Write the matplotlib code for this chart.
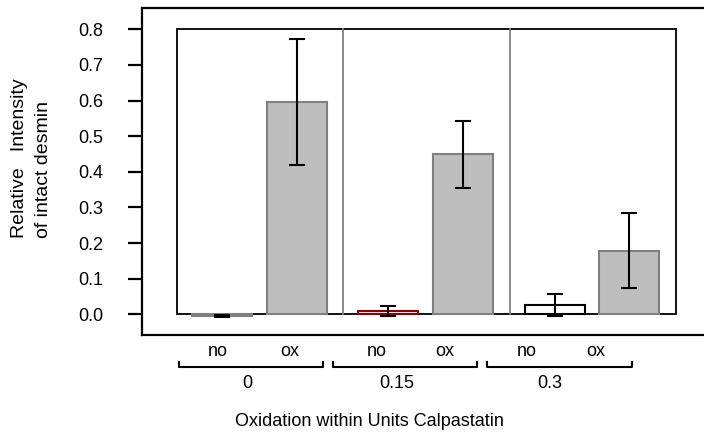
import matplotlib
matplotlib.use("Agg")
import matplotlib.pyplot as plt
from matplotlib.patches import Rectangle

plt.rcParams['font.family'] = ['Liberation Sans', 'DejaVu Sans']

# ---- data ----
groups = ["0", "0.15", "0.3"]
conditions = ["no", "ox"]
means = [[-0.005, 0.596], [0.008, 0.449], [0.027, 0.178]]
errors = [[0.002, 0.178], [0.014, 0.095], [0.031, 0.105]]
yticks = [0.0, 0.1, 0.2, 0.3, 0.4, 0.5, 0.6, 0.7, 0.8]
ylabel_lines = ["Relative   Intensity", "of intact desmin"]
xtitle = "Oxidation within Units Calpastatin"

# ---- styles ----
face = [["#bebebe", "#bebebe"], ["white", "#bebebe"], ["white", "#bebebe"]]
edge = [["#808080", "#808080"], ["#8b0000", "#808080"], ["black", "#808080"]]
FS = 13
FSY = 14

W, H = 704, 433
fig = plt.figure(figsize=(W / 100, H / 100), dpi=100)

def fx(px):
    return px / W

def fy(py):
    return 1 - py / H

# axes frame in pixels
left, right, top, bottom = 142, 712, 8, 334.5
ax = fig.add_axes([fx(left), fy(bottom), fx(right) - fx(left), fy(top) - fy(bottom)])
x0_px, x3_px = 177, 676
ppu = (x3_px - x0_px) / 3
y0_px, y8_px = 314.3, 29.3
ppy = (y0_px - y8_px) / 0.8
ax.set_xlim((left - x0_px) / ppu, (right - x0_px) / ppu)
ax.set_ylim((y0_px - bottom) / ppy, (y0_px - top) / ppy)

for s in ax.spines.values():
    s.set_linewidth(1.6)
ax.set_xticks([])
ax.set_yticks(yticks)
ax.set_yticklabels([f"{t:.1f}" for t in yticks])
ax.tick_params(axis='y', length=10, width=1.6, pad=18, labelsize=FS, direction='out')

# inner box and dividers
ax.add_patch(Rectangle((0, 0), 3, 0.8, fill=False, edgecolor='black', lw=1.3, zorder=1))
for d in [1, 2]:
    ax.plot([d, d], [0, 0.8], color='#808080', lw=1.3, zorder=1)

offsets = [0.27, 0.72]
bw = 0.36
for g in range(len(groups)):
    for c in range(len(conditions)):
        xc = g + offsets[c]
        ax.bar(xc, means[g][c], width=bw, color=face[g][c], edgecolor=edge[g][c],
               linewidth=1.5, zorder=2)
        ax.errorbar(xc, means[g][c], yerr=errors[g][c], color='black', lw=1.5,
                    capsize=5.5, capthick=1.5, zorder=3)

# x-axis annotations (pixel layout below axes)
cond_x = [[218, 290], [377, 445], [527, 596]]
bracket = [[179, 323], [333, 477], [487, 632]]
grp_x = [247, 397, 550]
for g in range(len(groups)):
    for c in range(len(conditions)):
        fig.text(fx(cond_x[g][c]), fy(352), conditions[c], ha='center', va='center', fontsize=FS)
    b0, b1 = bracket[g]
    fig.add_artist(plt.Line2D([fx(b0), fx(b0), fx(b1), fx(b1)],
                              [fy(362), fy(367), fy(367), fy(362)], color='black', lw=1.5))
    fig.text(fx(grp_x[g]), fy(384), groups[g], ha='center', va='center', fontsize=FS)

fig.text(fx(369), fy(422), xtitle, ha='center', va='center', fontsize=FS)

fig.text(fx(20), fy(238), ylabel_lines[0], rotation=90, ha='center', va='bottom', fontsize=FSY)
fig.text(fx(44), fy(238), ylabel_lines[1], rotation=90, ha='center', va='bottom', fontsize=FSY)

fig.savefig("out.png", dpi=100)
